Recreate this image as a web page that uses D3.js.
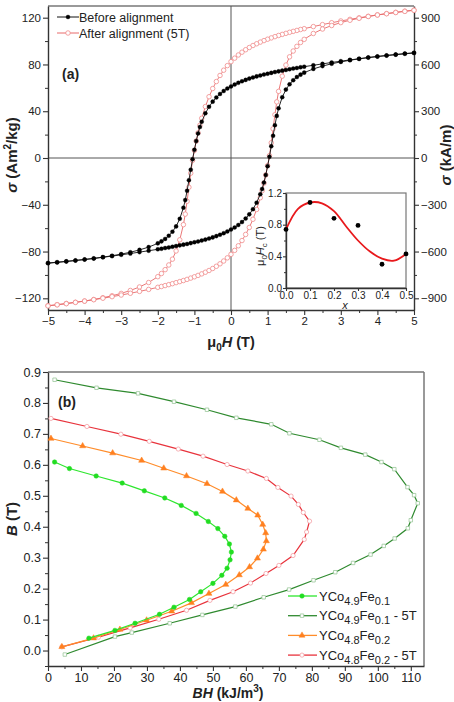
<!DOCTYPE html>
<html>
<head>
<meta charset="utf-8">
<script src="https://cdn.jsdelivr.net/npm/d3@7"></script>
<style>
body { margin: 0; background: #fff; }
svg text { font-family: "Liberation Sans", Arial, sans-serif; fill: #222; }
</style>
</head>
<body>
<script>
// ---- panel (a): hysteresis loops, H grid for the descending branch (+5 -> -5)
var fieldDown = [5,4.75,4.5,4.25,4,3.75,3.5,3.25,3,2.75,2.5,2.25,2,
  1.9,1.8,1.7,1.6,1.5,1.4,1.3,1.2,1.1,1,0.9,0.8,0.7,0.6,0.5,0.4,0.3,0.2,0.1,0,
  -0.1,-0.2,-0.3,-0.4,-0.5,-0.6,-0.7,-0.8,
  -0.85,-0.9,-0.95,-1,-1.05,-1.1,-1.15,-1.2,-1.25,
  -1.3,-1.4,-1.5,-1.6,-1.7,-1.8,-1.9,
  -2,-2.25,-2.5,-2.75,-3,-3.25,-3.5,-3.75,-4,-4.25,-4.5,-4.75,-5];
var fieldUp = [-5,-4.75,-4.5,-4.25,-4,-3.75,-3.5,-3.25,-3,-2.75,-2.5,-2.25,-2,
  -1.9,-1.8,-1.7,-1.6,-1.5,-1.4,-1.3,-1.2,-1.1,-1,-0.9,-0.8,-0.7,-0.6,-0.5,-0.4,-0.3,-0.2,-0.1,0,
  0.1,0.2,0.3,0.4,0.5,0.6,0.7,0.8,
  0.85,0.9,0.95,1,1.05,1.1,1.15,1.2,1.25,
  1.3,1.4,1.5,1.6,1.7,1.8,1.9,
  2,2.25,2.5,2.75,3,3.25,3.5,3.75,4,4.25,4.5,4.75,5];

var beforeDown = [90,89.3,88.5,87.7,86.8,85.9,84.9,83.9,82.8,81.7,80.5,79.3,78.1,
  77.6,77,76.5,75.9,75.3,74.7,74.1,73.5,72.8,72.1,71.4,70.6,69.8,68.9,67.9,66.8,65.6,64.3,62.8,61.2,
  59.4,57.3,54.8,51.8,48.2,43.8,38.2,31,
  26.5,21,14.5,7,-1,-10,-19,-28,-36,
  -42.5,-52,-58.5,-63,-66.5,-69.2,-71.3,
  -73,-76.2,-78.6,-80.6,-82.2,-83.6,-84.8,-85.9,-86.8,-87.6,-88.4,-89.1,-89.8];
var beforeUp = [-90,-89.3,-88.5,-87.7,-86.8,-85.9,-84.9,-83.9,-82.8,-81.7,-80.5,-79.3,-78.1,
  -77.6,-77,-76.5,-75.9,-75.3,-74.7,-74.1,-73.5,-72.8,-72.1,-71.4,-70.6,-69.8,-68.9,-67.9,-66.8,-65.6,-64.3,-62.8,-61.2,
  -59.4,-57.3,-54.8,-51.8,-48.2,-43.8,-38.2,-31,
  -26.5,-21,-14.5,-7,1,10,19,28,36,
  42.5,52,58.5,63,66.5,69.2,71.3,
  73,76.2,78.6,80.6,82.2,83.6,84.8,85.9,86.8,87.6,88.4,89.1,89.8];

var afterDown = [126.5,125.6,124.6,123.5,122.4,121.2,119.9,118.6,117.2,115.7,114.1,112.4,110.6,
  109.9,109.1,108.3,107.5,106.6,105.7,104.8,103.8,102.7,101.6,100.4,99.1,97.7,96.2,94.5,92.6,90.5,88.1,85.4,82.4,
  79,75.1,70.6,65.4,59.4,52.4,44,34,
  28,21.5,14.5,6.5,-2,-13,-25,-37,-48,
  -57,-70,-79.5,-86.5,-91.5,-95.5,-98.8,
  -101.5,-106.5,-110.3,-113.3,-115.8,-117.8,-119.5,-121,-122.3,-123.4,-124.4,-125.4,-126.3];
var afterUp = [-126.5,-125.6,-124.6,-123.5,-122.4,-121.2,-119.9,-118.6,-117.2,-115.7,-114.1,-112.4,-110.6,
  -109.9,-109.1,-108.3,-107.5,-106.6,-105.7,-104.8,-103.8,-102.7,-101.6,-100.4,-99.1,-97.7,-96.2,-94.5,-92.6,-90.5,-88.1,-85.4,-82.4,
  -79,-75.1,-70.6,-65.4,-59.4,-52.4,-44,-34,
  -28,-21.5,-14.5,-6.5,2,13,25,37,48,
  57,70,79.5,86.5,91.5,95.5,98.8,
  101.5,106.5,110.3,113.3,115.8,117.8,119.5,121,122.3,123.4,124.4,125.4,126.3];

// inset: coercivity vs x
var insetX = [0, 0.1, 0.2, 0.3, 0.4, 0.5];
var insetHc = [0.74, 1.08, 0.88, 0.79, 0.30, 0.43];
var fitX = [0, 0.05, 0.1, 0.15, 0.2, 0.25, 0.3, 0.35, 0.4, 0.45, 0.5];
var fitHc = [0.74, 1.0, 1.08, 1.07, 0.97, 0.78, 0.6, 0.46, 0.37, 0.345, 0.43];

// ---- panel (b): B vs BH
var fe01BH = [2.0,6.5,14.6,22.5,29.2,35.4,40.4,44.9,48.6,51.5,53.6,55.0,55.6,55.2,54.3,52.7,50.0,46.3,42.9,38.2,33.8,26.4,20.3,12.4];
var fe01B  = [0.609,0.588,0.564,0.541,0.516,0.493,0.469,0.443,0.417,0.394,0.369,0.344,0.318,0.293,0.266,0.243,0.217,0.190,0.165,0.140,0.117,0.088,0.065,0.040];
var fe01tBH = [2.0,14.7,27.3,38.2,48.2,57.1,67.7,73.2,82.3,88.8,96.2,101.1,105.0,109.0,111.0,112.1,110.0,109.1,105.1,101.8,97.8,92.5,87.1,80.5,73.1,65.4,56.8,46.8,36.9,25.4,20.3,5.1];
var fe01tB  = [0.875,0.849,0.831,0.804,0.778,0.752,0.731,0.702,0.681,0.655,0.633,0.609,0.586,0.528,0.502,0.476,0.421,0.395,0.362,0.338,0.310,0.283,0.253,0.227,0.197,0.172,0.142,0.115,0.088,0.058,0.045,-0.013];
var fe02BH = [0.9,10.5,19.6,28.4,35.1,42.0,48.2,52.9,57.1,60.6,63.6,65.1,66.0,66.2,65.3,63.5,61.1,58.0,53.9,48.8,43.5,37.5,29.9,21.8,13.8,4.2];
var fe02B  = [0.685,0.661,0.638,0.614,0.589,0.564,0.539,0.514,0.486,0.459,0.437,0.407,0.380,0.354,0.327,0.298,0.270,0.244,0.213,0.184,0.154,0.127,0.098,0.068,0.040,0.012];
var fe02tBH = [0.9,11.8,22.1,30.7,39.5,47.0,54.3,60.6,66.2,69.7,73.7,75.9,77.4,79.3,78.4,77.7,74.3,70.0,66.1,61.4,56.1,49.1,42.0,33.6,24.9,15.3,4.2];
var fe02tB  = [0.750,0.724,0.699,0.676,0.651,0.628,0.601,0.580,0.556,0.527,0.499,0.472,0.446,0.418,0.383,0.359,0.307,0.275,0.249,0.218,0.190,0.162,0.130,0.101,0.073,0.043,0.012];

function pairs(xs, ys) { return xs.map(function(v, i) { return [v, ys[i]]; }); }

var svg = d3.select("body").append("svg").attr("width", 454).attr("height", 702);
var axisColor = "#333", boxColor = "#777";

// ================= panel (a) =================
var xA = d3.scaleLinear().domain([-5, 5]).range([48, 414]);
var yA = d3.scaleLinear().domain([-130, 130]).range([310, 6]);
var yA2 = d3.scaleLinear().domain([-975, 975]).range([310, 6]);

var ga = svg.append("g");
ga.append("line").attr("x1", 48).attr("x2", 414).attr("y1", 6).attr("y2", 6).attr("stroke", boxColor).attr("stroke-width", 1.5);
ga.append("line").attr("x1", xA(0)).attr("x2", xA(0)).attr("y1", 6).attr("y2", 310).attr("stroke", "#555").attr("stroke-width", 1);
ga.append("line").attr("x1", 48).attr("x2", 414).attr("y1", yA(0)).attr("y2", yA(0)).attr("stroke", "#555").attr("stroke-width", 1);

function styleAxis(sel, fs) {
  sel.select(".domain").attr("stroke", axisColor).attr("stroke-width", 1.4);
  sel.selectAll(".tick line").attr("stroke", axisColor).attr("stroke-width", 1.1);
  sel.selectAll(".tick text").attr("font-size", fs).attr("fill", "#222").attr("font-family", "Liberation Sans, Arial, sans-serif");
}
function minorAxis(g, axis) {
  var s = g.append("g").call(axis.tickFormat("").tickSizeOuter(0));
  s.select(".domain").remove();
  s.selectAll(".tick line").attr("stroke", axisColor).attr("stroke-width", 1);
}

var axL = ga.append("g").attr("transform", "translate(48,0)")
  .call(d3.axisLeft(yA).tickValues([-120,-80,-40,0,40,80,120]).tickSize(5).tickSizeOuter(0).tickPadding(2));
styleAxis(axL, 11.5);
minorAxis(ga.append("g").attr("transform", "translate(48,0)"), d3.axisLeft(yA).tickValues([-100,-60,-20,20,60,100]).tickSize(3));

var axR = ga.append("g").attr("transform", "translate(414,0)")
  .call(d3.axisRight(yA2).tickValues([-900,-600,-300,0,300,600,900]).tickSize(5).tickSizeOuter(0).tickPadding(2));
styleAxis(axR, 11.5);
minorAxis(ga.append("g").attr("transform", "translate(414,0)"), d3.axisRight(yA2).tickValues([-750,-450,-150,150,450,750]).tickSize(3));

var axB = ga.append("g").attr("transform", "translate(0,310)")
  .call(d3.axisBottom(xA).tickValues(d3.range(-5, 6)).tickSize(5).tickSizeOuter(0).tickPadding(2));
styleAxis(axB, 11.5);
minorAxis(ga.append("g").attr("transform", "translate(0,310)"), d3.axisBottom(xA).tickValues(d3.range(-4.5, 5, 1)).tickSize(3));

function drawSeries(g, pts, x, y, o) {
  g.append("path").datum(pts)
    .attr("fill", "none").attr("stroke", o.line).attr("stroke-width", o.lw || 1)
    .attr("d", d3.line().x(function(d) { return x(d[0]); }).y(function(d) { return y(d[1]); }));
  g.selectAll(null).data(pts).enter().append("path")
    .attr("transform", function(d) { return "translate(" + x(d[0]) + "," + y(d[1]) + ")"; })
    .attr("d", d3.symbol().type(o.sym).size(o.size))
    .attr("fill", o.fill).attr("stroke", o.stroke).attr("stroke-width", o.sw || 0.8);
}

var redStyle = {line: "#e86a6a", lw: 0.9, sym: d3.symbolCircle, size: 16, fill: "#fff", stroke: "#f08a8a", sw: 0.8};
var blackStyle = {line: "#111", lw: 0.9, sym: d3.symbolCircle, size: 13, fill: "#000", stroke: "#000", sw: 0.3};
drawSeries(ga, pairs(fieldDown, afterDown), xA, yA, redStyle);
drawSeries(ga, pairs(fieldUp, afterUp), xA, yA, redStyle);
drawSeries(ga, pairs(fieldDown, beforeDown), xA, yA, blackStyle);
drawSeries(ga, pairs(fieldUp, beforeUp), xA, yA, blackStyle);

// legend (a)
var legA = [["Before alignment", blackStyle], ["After alignment (5T)", redStyle]];
legA.forEach(function(l, i) {
  var ly = 17 + i * 16;
  ga.append("line").attr("x1", 57).attr("x2", 79).attr("y1", ly).attr("y2", ly).attr("stroke", l[1].line).attr("stroke-width", 1);
  ga.append("path").attr("transform", "translate(68," + ly + ")").attr("d", d3.symbol().type(l[1].sym).size(l[1].size))
    .attr("fill", l[1].fill).attr("stroke", l[1].stroke).attr("stroke-width", l[1].sw);
  ga.append("text").attr("x", 79).attr("y", ly + 4.5).attr("font-size", 12.5).text(l[0]);
});
ga.append("text").attr("x", 62).attr("y", 79).attr("font-size", 14).attr("font-weight", "bold").text("(a)");

// axis titles (a)
var tl = ga.append("text").attr("transform", "translate(17,155) rotate(-90)").attr("text-anchor", "middle")
  .attr("font-size", 15).attr("font-weight", "bold");
tl.append("tspan").attr("font-style", "italic").text("σ");
tl.append("tspan").text(" (Am");
tl.append("tspan").attr("font-size", 10).attr("dy", -6).text("2");
tl.append("tspan").attr("dy", 6).text("/kg)");
var tr = ga.append("text").attr("transform", "translate(451,155) rotate(-90)").attr("text-anchor", "middle")
  .attr("font-size", 15).attr("font-weight", "bold");
tr.append("tspan").attr("font-style", "italic").text("σ");
tr.append("tspan").text(" (kA/m)");
var tx = ga.append("text").attr("x", 231).attr("y", 347).attr("text-anchor", "middle").attr("font-size", 14.5).attr("font-weight", "bold");
tx.append("tspan").text("μ");
tx.append("tspan").attr("font-size", 10).attr("dy", 4).text("0");
tx.append("tspan").attr("dy", -4).attr("font-style", "italic").text("H");
tx.append("tspan").text(" (T)");

// inset
var xI = d3.scaleLinear().domain([0, 0.5]).range([286, 406]);
var yI = d3.scaleLinear().domain([0, 1.2]).range([288, 193]);
var gi = svg.append("g");
gi.append("rect").attr("x", 286).attr("y", 193).attr("width", 120).attr("height", 95)
  .attr("fill", "#fff").attr("stroke", boxColor).attr("stroke-width", 1.2);
var iaL = gi.append("g").attr("transform", "translate(286,0)")
  .call(d3.axisLeft(yI).tickValues([0, 0.4, 0.8, 1.2]).tickFormat(d3.format(".1f")).tickSize(3).tickSizeOuter(0).tickPadding(1));
styleAxis(iaL, 10);
minorAxis(gi.append("g").attr("transform", "translate(286,0)"), d3.axisLeft(yI).tickValues([0.2, 0.6, 1.0]).tickSize(2));
var iaB = gi.append("g").attr("transform", "translate(0,288)")
  .call(d3.axisBottom(xI).tickValues(insetX).tickFormat(d3.format(".1f")).tickSize(3).tickSizeOuter(0).tickPadding(1));
styleAxis(iaB, 10);
gi.append("path").datum(pairs(fitX, fitHc)).attr("fill", "none").attr("stroke", "#e8191c").attr("stroke-width", 1.8)
  .attr("d", d3.line().curve(d3.curveCatmullRom).x(function(d) { return xI(d[0]); }).y(function(d) { return yI(d[1]); }));
gi.selectAll(null).data(pairs(insetX, insetHc)).enter().append("circle")
  .attr("cx", function(d) { return xI(d[0]); }).attr("cy", function(d) { return yI(d[1]); })
  .attr("r", 2.4).attr("fill", "#000");
var il = gi.append("text").attr("transform", "translate(264,246) rotate(-90)").attr("text-anchor", "middle").attr("font-size", 11);
il.append("tspan").text("μ");
il.append("tspan").attr("font-size", 8).attr("dy", 3).text("0");
il.append("tspan").attr("dy", -3).attr("font-style", "italic").text("H");
il.append("tspan").attr("font-size", 8).attr("dy", 3).text("c");
il.append("tspan").attr("dy", -3).text(" (T)");
gi.append("text").attr("x", 345).attr("y", 309).attr("text-anchor", "middle").attr("font-size", 11).attr("font-style", "italic").text("x");

// ================= panel (b) =================
var xB = d3.scaleLinear().domain([0, 114]).range([48, 424]);
var yB = d3.scaleLinear().domain([-0.05, 0.9]).range([666, 372]);
var gb = svg.append("g");
gb.append("line").attr("x1", 48).attr("x2", 424).attr("y1", 372).attr("y2", 372).attr("stroke", boxColor).attr("stroke-width", 1.5);
gb.append("line").attr("x1", 424).attr("x2", 424).attr("y1", 372).attr("y2", 666).attr("stroke", boxColor).attr("stroke-width", 1.5);

var bL = gb.append("g").attr("transform", "translate(48,0)")
  .call(d3.axisLeft(yB).tickValues(d3.range(0, 0.95, 0.1)).tickFormat(d3.format(".1f")).tickSize(5).tickSizeOuter(0).tickPadding(2));
styleAxis(bL, 12.5);
minorAxis(gb.append("g").attr("transform", "translate(48,0)"), d3.axisLeft(yB).tickValues(d3.range(-0.05, 0.9, 0.1)).tickSize(3));
var bB = gb.append("g").attr("transform", "translate(0,666)")
  .call(d3.axisBottom(xB).tickValues(d3.range(0, 111, 10)).tickSize(5).tickSizeOuter(0).tickPadding(2));
styleAxis(bB, 12.5);
minorAxis(gb.append("g").attr("transform", "translate(0,666)"), d3.axisBottom(xB).tickValues(d3.range(5, 114, 10)).tickSize(3));

var s01 = {line: "#2ee62e", lw: 1.2, sym: d3.symbolCircle, size: 16, fill: "#22dd22", stroke: "#22dd22", sw: 0.5};
var s01t = {line: "#2f8a2f", lw: 1.2, sym: d3.symbolSquare, size: 12, fill: "#fff", stroke: "#9cc89c", sw: 0.8};
var s02 = {line: "#ff8c2a", lw: 1.2, sym: d3.symbolTriangle, size: 16, fill: "#ff8020", stroke: "#ff8020", sw: 0.5};
var s02t = {line: "#e8333c", lw: 1.2, sym: d3.symbolCircle, size: 14, fill: "#fff", stroke: "#f4a0a4", sw: 0.8};
drawSeries(gb, pairs(fe01tBH, fe01tB), xB, yB, s01t);
drawSeries(gb, pairs(fe02tBH, fe02tB), xB, yB, s02t);
drawSeries(gb, pairs(fe02BH, fe02B), xB, yB, s02);
drawSeries(gb, pairs(fe01BH, fe01B), xB, yB, s01);

// legend (b)
var legB = [[["YCo", "4.9", "Fe", "0.1", ""], s01], [["YCo", "4.9", "Fe", "0.1", " - 5T"], s01t],
            [["YCo", "4.8", "Fe", "0.2", ""], s02], [["YCo", "4.8", "Fe", "0.2", " - 5T"], s02t]];
legB.forEach(function(l, i) {
  var ly = 596 + i * 19.7;
  gb.append("line").attr("x1", 288).attr("x2", 317).attr("y1", ly).attr("y2", ly).attr("stroke", l[1].line).attr("stroke-width", 1.3);
  gb.append("path").attr("transform", "translate(302," + ly + ")").attr("d", d3.symbol().type(l[1].sym).size(l[1].size))
    .attr("fill", l[1].fill).attr("stroke", l[1].stroke).attr("stroke-width", l[1].sw);
  var t = gb.append("text").attr("x", 319).attr("y", ly + 4.5).attr("font-size", 13);
  t.append("tspan").text(l[0][0]);
  t.append("tspan").attr("font-size", 11).attr("dy", 4).text(l[0][1]);
  t.append("tspan").attr("dy", -4).text(l[0][2]);
  t.append("tspan").attr("font-size", 11).attr("dy", 4).text(l[0][3]);
  t.append("tspan").attr("dy", -4).text(l[0][4]);
});
gb.append("text").attr("x", 58).attr("y", 407).attr("font-size", 14).attr("font-weight", "bold").text("(b)");

var bl = gb.append("text").attr("transform", "translate(17,519) rotate(-90)").attr("text-anchor", "middle")
  .attr("font-size", 15).attr("font-weight", "bold");
bl.append("tspan").attr("font-style", "italic").text("B");
bl.append("tspan").text(" (T)");
var bx = gb.append("text").attr("x", 228).attr("y", 698).attr("text-anchor", "middle").attr("font-size", 14).attr("font-weight", "bold");
bx.append("tspan").attr("font-style", "italic").text("BH");
bx.append("tspan").text(" (kJ/m");
bx.append("tspan").attr("font-size", 10).attr("dy", -6).text("3");
bx.append("tspan").attr("dy", 6).text(")");
</script>
</body>
</html>
